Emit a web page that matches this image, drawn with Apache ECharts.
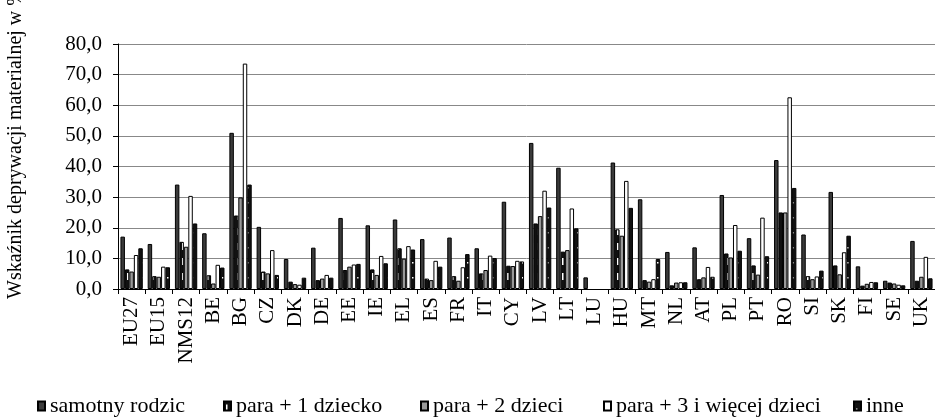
<!DOCTYPE html>
<html>
<head>
<meta charset="utf-8">
<script src="https://cdn.jsdelivr.net/npm/echarts@6/dist/echarts.min.js"></script>
<style>
  html, body { margin: 0; padding: 0; background: #fff; }
  #chart { width: 935px; height: 417px; }
</style>
</head>
<body>
<div id="chart"></div>
<script>
const categories = ['EU27', 'EU15', 'NMS12', 'BE', 'BG', 'CZ', 'DK', 'DE', 'EE', 'IE', 'EL', 'ES', 'FR', 'IT', 'CY',
  'LV', 'LT', 'LU', 'HU', 'MT', 'NL', 'AT', 'PL', 'PT', 'RO', 'SI', 'SK', 'FI', 'SE', 'UK'];

const samotnyRodzic = [17.1, 14.7, 34.1, 18.2, 51.0, 20.3, 9.8, 13.5, 23.2, 20.8, 22.7, 16.3, 16.8, 13.3, 28.5,
  47.7, 39.6, 3.8, 41.3, 29.3, 12.1, 13.6, 30.7, 16.6, 42.1, 17.8, 31.7, 7.4, 2.7, 15.7];
const para1 = [6.4, 4.2, 15.4, 4.5, 24.0, 5.7, 2.4, 2.9, 6.2, 6.4, 13.3, 3.4, 4.2, 5.1, 7.6,
  21.4, 12.2, null, 19.5, 2.9, 1.2, 3.2, 11.6, 7.7, 25.0, 4.2, 7.7, 1.1, 2.1, 2.7];
const para2 = [5.7, 4.0, 13.8, 1.8, 29.9, 5.1, 1.6, 3.4, 7.3, 4.6, 9.9, 2.9, 2.7, 6.2, 7.5,
  23.8, 12.7, null, 17.4, 2.4, 2.1, 3.8, 10.3, 4.7, 25.0, 3.2, 4.8, 1.7, 1.8, 4.0];
const para3 = [11.1, 7.3, 30.4, 7.9, 73.6, 12.7, 1.4, 4.6, 8.0, 10.8, 14.0, 9.2, 7.1, 10.9, 9.2,
  32.1, 26.3, null, 35.3, 3.2, 2.2, 7.2, 20.9, 23.3, 62.6, 4.1, 12.0, 2.3, 1.4, 10.5];
const inne = [13.3, 7.1, 21.4, 7.0, 34.1, 4.6, 3.7, 3.7, 8.2, 8.4, 12.9, 7.3, 11.4, 10.1, 9.0,
  26.6, 19.8, null, 26.5, 9.8, 2.2, 4.0, 12.5, 10.7, 33.0, 6.0, 17.4, 2.2, 1.2, 3.5];

const seriesNames = ['samotny rodzic', 'para + 1 dziecko', 'para + 2 dzieci', 'para + 3 i więcej dzieci', 'inne'];
const yTicks = [0, 10, 20, 30, 40, 50, 60, 70, 80];

const font = 'Liberation Serif';
const legendLeft = [37, 223, 420, 603, 853];

// small canvas patterns for the hatched bars
function makePattern(draw) {
  const c = document.createElement('canvas');
  c.width = 5;
  c.height = 15;
  const ctx = c.getContext('2d');
  draw(ctx);
  return { image: c, repeat: 'repeat' };
}
const dashPattern = makePattern(ctx => {
  ctx.fillStyle = '#111';
  ctx.fillRect(0, 0, 5, 15);
  ctx.fillStyle = '#fff';
  ctx.fillRect(2, 3, 1.5, 7);
});
const dotPattern = makePattern(ctx => {
  ctx.fillStyle = '#111';
  ctx.fillRect(0, 0, 5, 15);
  ctx.fillStyle = '#fff';
  ctx.fillRect(2, 7, 1.5, 1.5);
});

const fills = ['#3a3a3a', dashPattern, '#999999', '#ffffff', dotPattern];
const values = [samotnyRodzic, para1, para2, para3, inne];

const chart = echarts.init(document.getElementById('chart'));
chart.setOption({
  animation: false,
  textStyle: { fontFamily: font },
  grid: { left: 118, top: 44, right: -4, bottom: 128, containLabel: false },
  // one legend per item so each sits where it does in the original
  legend: seriesNames.map((name, i) => ({
    data: [name],
    top: 395,
    left: legendLeft[i],
    padding: 0,
    itemWidth: 7,
    itemHeight: 9,
    itemTextGap: 2,
    icon: 'rect',
    textStyle: { fontFamily: font, fontSize: 22, color: '#000' }
  })),
  xAxis: {
    type: 'category',
    data: categories,
    axisLine: { lineStyle: { color: '#000', width: 1 } },
    axisTick: { show: true, length: 5, lineStyle: { color: '#000' } },
    axisLabel: { interval: 0, rotate: 90, fontSize: 21, color: '#000', margin: 8, fontFamily: font }
  },
  yAxis: {
    type: 'value',
    min: 0,
    max: 80,
    interval: 10,
    axisLine: { show: true, lineStyle: { color: '#000', width: 1 } },
    axisTick: { show: true, length: 5, lineStyle: { color: '#000' } },
    axisLabel: {
      fontSize: 21,
      color: '#000',
      margin: 16,
      fontFamily: font,
      formatter: v => yTicks.includes(v) ? v.toFixed(1).replace('.', ',') : ''
    },
    splitLine: { show: true, lineStyle: { color: '#888', width: 1 } }
  },
  graphic: [{
    type: 'text',
    x: 16,
    y: 144,
    rotation: Math.PI / 2,
    style: {
      text: 'Wskaźnik deprywacji materialnej w %',
      font: '20px "Liberation Serif"',
      fill: '#000',
      align: 'center',
      verticalAlign: 'middle'
    }
  }],
  series: seriesNames.map((name, i) => ({
    name: name,
    type: 'bar',
    data: values[i],
    barGap: '0%',
    barCategoryGap: '18%',
    itemStyle: { color: fills[i], borderColor: '#000', borderWidth: 1 }
  }))
});
</script>
</body>
</html>
